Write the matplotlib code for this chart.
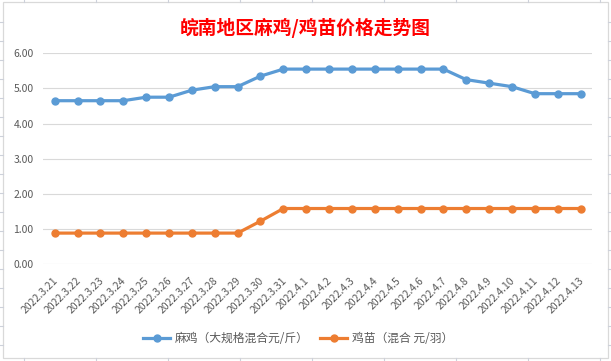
import matplotlib
matplotlib.use("Agg")
import matplotlib.pyplot as plt
import matplotlib.transforms as mtrans
from matplotlib.lines import Line2D
from matplotlib.patches import Rectangle

plt.rcParams['font.family'] = ['Noto Sans CJK SC', 'DejaVu Sans']

dates = ['2022.3.21', '2022.3.22', '2022.3.23', '2022.3.24', '2022.3.25', '2022.3.26',
         '2022.3.27', '2022.3.28', '2022.3.29', '2022.3.30', '2022.3.31',
         '2022.4.1', '2022.4.2', '2022.4.3', '2022.4.4', '2022.4.5', '2022.4.6',
         '2022.4.7', '2022.4.8', '2022.4.9', '2022.4.10', '2022.4.11', '2022.4.12',
         '2022.4.13']
mj_price = [4.65, 4.65, 4.65, 4.65, 4.75, 4.75, 4.95, 5.05, 5.05, 5.35, 5.55,
            5.55, 5.55, 5.55, 5.55, 5.55, 5.55, 5.55, 5.25, 5.15, 5.05, 4.85, 4.85, 4.85]
jm_price = [0.88, 0.88, 0.88, 0.88, 0.88, 0.88, 0.88, 0.88, 0.88, 1.22, 1.58,
            1.58, 1.58, 1.58, 1.58, 1.58, 1.58, 1.58, 1.58, 1.58, 1.58, 1.58, 1.58, 1.58]
mj_label = '麻鸡（大规格混合元/斤）'
jm_label = '鸡苗（混合 元/羽）'
title = '皖南地区麻鸡/鸡苗价格走势图'

W, H = 611, 361
fig = plt.figure(figsize=(W / 100, H / 100), dpi=100)

def fx(px):
    return px / W

def fy(py):
    return 1 - py / H

# spreadsheet cell lines peeking out round the chart
grid_col = '#CDD1DA'
for yy in range(22, 361, 19):
    fig.add_artist(Line2D([0, fx(3)], [fy(yy), fy(yy)], color=grid_col, lw=0.8))
    fig.add_artist(Line2D([fx(608), 1], [fy(yy), fy(yy)], color=grid_col, lw=0.8))
for xx in range(24, 611, 72):
    fig.add_artist(Line2D([fx(xx), fx(xx)], [fy(0), fy(2)], color=grid_col, lw=0.8))
    fig.add_artist(Line2D([fx(xx), fx(xx)], [fy(358), 0], color=grid_col, lw=0.8))
fig.add_artist(Rectangle((fx(3), fy(358)), fx(605), 356 / H,
                         fill=False, edgecolor='#D9D9D9', lw=0.9))

ax = fig.add_axes([fx(43.3), fy(264), fx(592) - fx(43.3), fy(53.3) - fy(264)])
x = list(range(len(dates)))
ax.plot(x, mj_price, color='#5B9BD5', lw=2.3, marker='o', markersize=5, label=mj_label)
ax.plot(x, jm_price, color='#ED7D31', lw=2.3, marker='o', markersize=5, label=jm_label)

ax.set_xlim(-0.5, len(dates) - 0.5)
ax.set_ylim(0, 6)
ax.set_yticks([0, 1, 2, 3, 4, 5, 6])
ax.set_yticklabels(['%.2f' % v for v in [0, 1, 2, 3, 4, 5, 6]])
ax.set_xticks(x)
ax.set_xticklabels(dates, rotation=45, ha='right')
ax.grid(axis='y', color='#D9D9D9', lw=0.8)
ax.set_axisbelow(True)
for s in ax.spines.values():
    s.set_visible(False)
ax.tick_params(axis='both', length=0, colors='#595959', labelsize=7.5)
ax.tick_params(axis='y', pad=7)
ax.tick_params(axis='x', pad=8)
offset = mtrans.ScaledTranslation(0.05, 0, fig.dpi_scale_trans)
for lab in ax.get_xticklabels():
    lab.set_transform(lab.get_transform() + offset)

fig.text(0.5, fy(28), title, color='#FF0000', fontsize=13.5, fontweight='bold',
         ha='center', va='center')

fig.legend(loc='center', bbox_to_anchor=(fx(298), fy(339)), ncol=2, frameon=False,
           fontsize=8.5, handlelength=2.3, handletextpad=0.35, columnspacing=1.0,
           labelcolor='#595959')

fig.savefig('out.png', dpi=100)
